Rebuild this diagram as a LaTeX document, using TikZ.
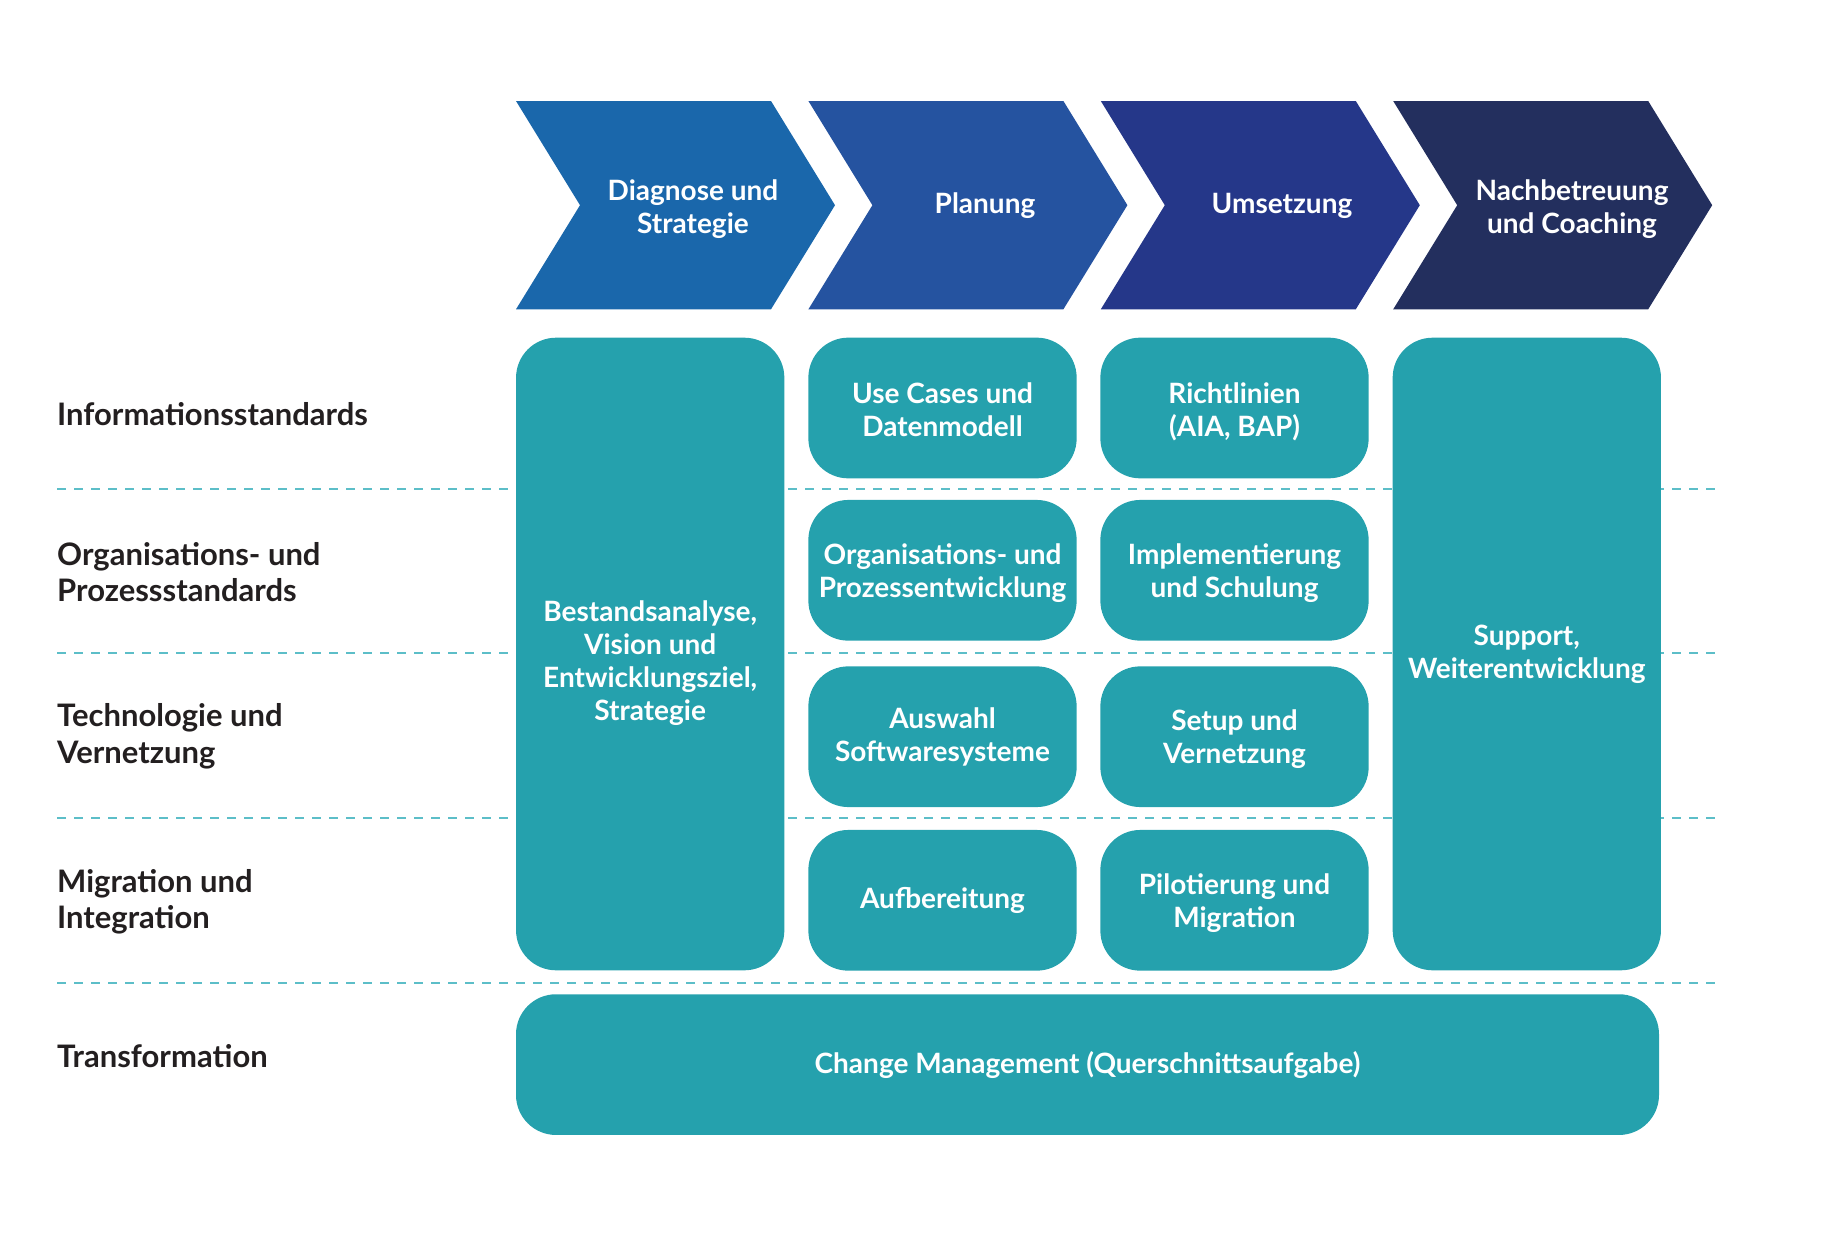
\documentclass[tikz,border=0pt]{standalone}
\usepackage{fontspec}
\setmainfont{Lato}
\definecolor{arA}{HTML}{1A67AB}
\definecolor{arB}{HTML}{2553A0}
\definecolor{arC}{HTML}{253789}
\definecolor{arD}{HTML}{232F5E}
\definecolor{tealbox}{HTML}{25A1AD}
\definecolor{dashc}{HTML}{5CBEC8}
\definecolor{labc}{HTML}{231F20}
\newcommand\boxfont{\bfseries\fontsize{28}{33}\selectfont}
\newcommand\labfont{\bfseries\fontsize{31}{36.5}\selectfont}
\newcommand\chevron[2]{\fill[#2] (#1,101) -- ({#1+255},101) -- ({#1+319},205.2) -- ({#1+255},309.3) -- (#1,309.3) -- ({#1+64},205.2) -- cycle;}
\begin{document}
\begin{tikzpicture}[x=1pt,y=-1pt,
  box/.style={fill=tealbox, rounded corners=40pt, minimum width=268.3pt, minimum height=140.7pt, inner sep=0pt, text=white, font=\boxfont, align=center},
  bigbox/.style={box, minimum height=632.6pt},
  head/.style={text=white, font=\boxfont, align=center, inner sep=0pt},
  lab/.style={text=labc, font=\labfont, align=left, inner sep=0pt},
  btxt/.style={text=white, font=\boxfont, align=center, inner sep=0pt},
  sepline/.style={draw=dashc, line width=2pt, dash pattern=on 9pt off 8pt}]
\useasboundingbox (0,0) rectangle (1840,1250);
% chevrons
\chevron{516}{arA}
\chevron{808.4}{arB}
\chevron{1100.8}{arC}
\chevron{1393.2}{arD}
\node[head] (h1) at (693,209.5) {Diagnose und\\Strategie};
\node[head] (h2) at (985,206) {Planung};
\node[head] (h3) at (1282,206) {Umsetzung};
\node[head] (h4) at (1572,209.5) {Nachbetreuung\\und Coaching};
% dashed separators
\coordinate (s1a) at (57,489);   \coordinate (s1b) at (1716,489);
\coordinate (s2a) at (57,653.3); \coordinate (s2b) at (1716,653.3);
\coordinate (s3a) at (57,817.7); \coordinate (s3b) at (1716,817.7);
\coordinate (s4a) at (57,982.7); \coordinate (s4b) at (1716,982.7);
\draw[sepline] (s1a) -- (s1b);
\draw[sepline] (s2a) -- (s2b);
\draw[sepline] (s3a) -- (s3b);
\draw[sepline] (s4a) -- (s4b);
% row labels
\node[lab, anchor=base west] (l1) at (57,425) {Informationsstandards};
\node[lab, anchor=west] (l2) at (57,572) {Organisations- und\\Prozessstandards};
\node[lab, anchor=west] (l3) at (57,736.5) {Technologie und\\Vernetzung};
\node[lab, anchor=west] (l4) at (57,902) {Migration und\\Integration};
\node[lab, anchor=base west] (l5) at (57,1067) {Transformation};
% boxes
\node[bigbox] (b1) at (650.2,654) {};
\node[btxt] (t1) at (650.2,663.5) {Bestandsanalyse,\\Vision und\\Entwicklungsziel,\\Strategie};
\node[bigbox] (b4) at (1526.8,654) {Support,\\Weiterentwicklung};
\node[box] (b21) at (942.5,408) {};
\node[btxt] (t21) at (942.5,409.5) {Use Cases und\\Datenmodell};
\node[box] (b31) at (1234.5,408) {};
\node[btxt] (t31) at (1234.5,411.5) {Richtlinien\\(AIA, BAP)};
\node[box] (b22) at (942.5,570.3) {};
\node[btxt] (t22) at (942.5,573.5) {Organisations- und\\Prozessentwicklung};
\node[box] (b32) at (1234.5,570.3) {};
\node[btxt] (t32) at (1234.5,573.5) {Implementierung\\und Schulung};
\node[box] (b23) at (942.5,736.7) {Auswahl\\Softwaresysteme};
\node[box] (b33) at (1234.5,736.7) {};
\node[btxt] (t33) at (1234.5,739) {Setup und\\Vernetzung};
\node[box] (b24) at (942.5,900.3) {Aufbereitung};
\node[box] (b34) at (1234.5,900.3) {};
\node[btxt] (t34) at (1234.5,903.5) {Pilotierung und\\Migration};
\node[box, minimum width=1143pt] (b5) at (1087.5,1064.6) {Change Management (Querschnittsaufgabe)};
\end{tikzpicture}
\end{document}
